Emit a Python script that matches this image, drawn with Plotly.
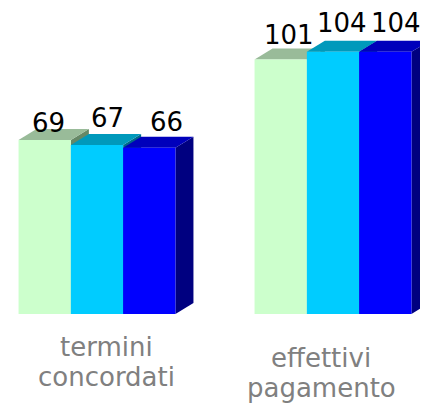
import plotly.graph_objects as go

# ---- data ----
categories = ["termini concordati", "effettivi pagamento"]
series_names = ["Serie 1", "Serie 2", "Serie 3"]
serie1 = [69, 101]
serie2 = [67, 104]
serie3 = [66, 104]
all_series = [serie1, serie2, serie3]

# ---- styling ----
front_colors = ["#CCFFCC", "#00CCFF", "#0000FF"]
top_colors = ["#99BB99", "#0099BB", "#0000BB"]
side_colors = ["#668866", "#006688", "#000080"]
FONT = "DejaVu Sans"

# value-label nudges in pixels, [group][series]
label_dx = [[4, 10, 17], [8, 9, 11]]
label_dy = [[0, 10, 9], [7, 12, 12]]

# page body has an 8px margin, so the figure is sized to the visible area
W, H = 420, 396
MB = 90
plot_w, plot_h = W, H - MB
y_range = [0, 121.4]
x_range = [-0.3771, 1.4025]
bw = 0.2216  # bar width in x units
dx_px, dy_px = 18, 11  # 3D depth offset in pixels
px_per_x = plot_w / (x_range[1] - x_range[0])
px_per_y = plot_h / (y_range[1] - y_range[0])
ddx = dx_px / px_per_x
ddy = dy_px / px_per_y

fig = go.Figure()
shapes = []
annotations = []

for i, (name, vals) in enumerate(zip(series_names, all_series)):
    xs = [g + (i - 1) * bw for g in range(len(categories))]
    fig.add_trace(go.Bar(
        x=xs, y=vals, width=bw, name=name,
        marker=dict(color=front_colors[i], line=dict(width=0)),
        hoverinfo="skip",
    ))

for g in range(len(categories)):
    for i, vals in enumerate(all_series):
        v = vals[g]
        xc = g + (i - 1) * bw
        xl, xr = xc - bw / 2, xc + bw / 2
        side = (f"M{xr},0 L{xr + ddx},{ddy} L{xr + ddx},{v + ddy} "
                f"L{xr},{v} Z")
        top = (f"M{xl},{v} L{xr},{v} L{xr + ddx},{v + ddy} "
               f"L{xl + ddx},{v + ddy} Z")
        shapes.append(dict(type="path", path=side, xref="x", yref="y",
                           fillcolor=side_colors[i], line=dict(width=0),
                           layer="below"))
        shapes.append(dict(type="path", path=top, xref="x", yref="y",
                           fillcolor=top_colors[i], line=dict(width=0),
                           layer="below"))
        annotations.append(dict(
            x=xc, y=v, xref="x", yref="y", text=str(v), showarrow=False,
            xanchor="center", yanchor="bottom",
            xshift=label_dx[g][i], yshift=label_dy[g][i],
            font=dict(family=FONT, size=26, color="#000000")))

label_xshift = [9, -12]
label_yshift = [-50, -61]
for g, cat in enumerate(categories):
    for j, word in enumerate(cat.split(" ")):
        annotations.append(dict(
            x=g, y=0, xref="x", yref="y", text=word, showarrow=False,
            xanchor="center", yanchor="bottom",
            xshift=label_xshift[g], yshift=label_yshift[g] - 30 * j,
            font=dict(family=FONT, size=26, color="#808080")))

fig.update_layout(
    width=W, height=H,
    margin=dict(l=0, r=0, t=0, b=MB, pad=0),
    paper_bgcolor="white", plot_bgcolor="white",
    showlegend=False, barmode="overlay",
    shapes=shapes, annotations=annotations,
    xaxis=dict(range=x_range, visible=False, fixedrange=True),
    yaxis=dict(range=y_range, visible=False, fixedrange=True),
)

fig.write_html("out.html", config={"displayModeBar": False})
